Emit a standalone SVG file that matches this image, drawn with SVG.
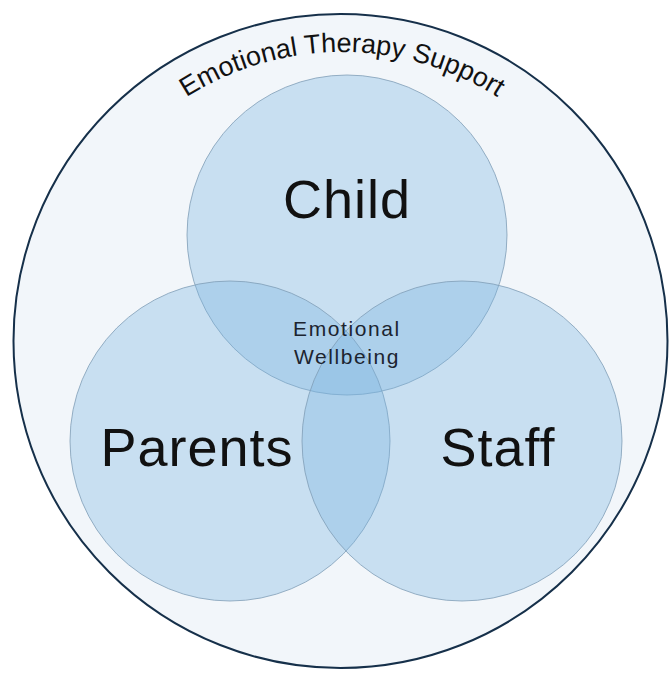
<svg xmlns="http://www.w3.org/2000/svg" width="670" height="673" viewBox="0 0 670 673">
  <style>
    .ring { fill: #f2f6fa; stroke: #16304a; stroke-width: 2; }
    .set { fill: #78b2e0; fill-opacity: 0.34; stroke: #7f9db6; stroke-width: 1; stroke-opacity: 0.8; }
    .big { font-family: "Liberation Sans", Arial, sans-serif; font-size: 54px; fill: #111; text-anchor: middle; letter-spacing: 1px; }
    .mid { font-family: "Liberation Sans", Arial, sans-serif; font-size: 21px; fill: #1c2430; text-anchor: middle; letter-spacing: 1.6px; }
    .arc { font-family: "Liberation Sans", Arial, sans-serif; font-size: 27px; fill: #111; }
  </style>
  <defs>
    <path id="arcPath" d="M 52,342 A 290 290 0 0 1 632,342"/>
  </defs>
  <rect width="670" height="673" fill="#ffffff"/>

  <g id="support">
    <circle class="ring" cx="340.5" cy="341" r="327"/>
    <text class="arc"><textPath href="#arcPath" startOffset="50%" text-anchor="middle">Emotional Therapy Support</textPath></text>
  </g>

  <g id="child">
    <circle class="set" cx="347" cy="235" r="160"/>
    <text class="big" x="347" y="218">Child</text>
  </g>

  <g id="parents">
    <circle class="set" cx="230" cy="441" r="160"/>
    <text class="big" x="197" y="466">Parents</text>
  </g>

  <g id="staff">
    <circle class="set" cx="462" cy="441" r="160"/>
    <text class="big" x="498" y="466">Staff</text>
  </g>

  <g id="wellbeing">
    <text class="mid" x="347" y="336">Emotional</text>
    <text class="mid" x="347" y="364">Wellbeing</text>
  </g>

  <g id="connectors"/>
</svg>
